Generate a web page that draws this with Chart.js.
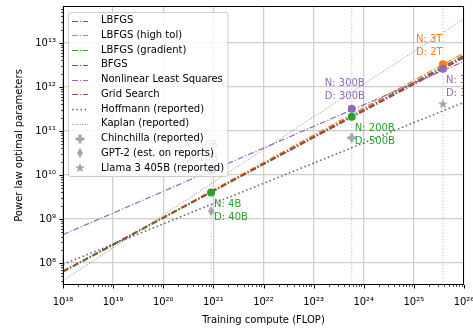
<!DOCTYPE html>
<html><head><meta charset="utf-8">
<script src="https://cdn.jsdelivr.net/npm/chart.js@4/dist/chart.umd.min.js"></script>
<style>html,body{margin:0;padding:0;background:#fff;overflow:hidden}#wrap{width:473px;height:333px;position:relative}</style>
</head><body><div id="wrap"><canvas id="c" width="473" height="333"></canvas></div>
<script>
// ---------------- data ----------------
const computeRange = [1e18, 1e26];                       // x axis limits (FLOP)
const paramRange = [Math.pow(10, 7.5), Math.pow(10, 13.84)]; // y axis limits

const methodNames = ['LBFGS', 'LBFGS (high tol)', 'LBFGS (gradient)', 'BFGS', 'Nonlinear Least Squares', 'Grid Search'];
const methodNAtStart = [6.3e7, 6.3e7, 6.2e7, 6.6e7, 4.4e8, 6.5e7];     // N at 1e18 FLOP
const methodNAtEnd   = [5.25e12, 5.9e12, 4.8e12, 4.6e12, 3.8e12, 5.1e12]; // N at 1e26 FLOP

const reportedNames = ['Hoffmann (reported)', 'Kaplan (reported)'];
const reportedNAtStart = [9.3e7, 4.0e7];
const reportedNAtEnd   = [4.47e11, 3.55e13];

const modelNames   = ['Chinchilla (reported)', 'GPT-2 (est. on reports)', 'Llama 3 405B (reported)'];
const modelCompute = [5.76e23, 9e20, 3.8e25];
const modelParams  = [7e10, 1.5e9, 4.05e11];

const refCompute = [9e20, 5.76e23, 3.8e25]; // vertical reference lines

const gradCompute = [9e20, 5.76e23];
const gradParams  = [4.0e9, 2.1e11];
const gradLabels  = [['N: 4B', 'D: 40B'], ['N: 200B', 'D: 500B']];

const nllsCompute = [9e20, 5.76e23, 3.8e25];
const nllsParams  = [1.26e10, 3.2e11, 2.6e12];
const nllsLabels  = [['N: 10B', 'D: 10B'], ['N: 300B', 'D: 300B'], ['N: 3T', 'D: 3T']];

const hiTolCompute = [3.8e25];
const hiTolParams  = [3.3e12];
const hiTolLabels  = [['N: 3T', 'D: 2T']];

// ---------------- styles ----------------
const FONT = '"DejaVu Sans", "Liberation Sans", sans-serif';
const methodColors = ['#1f77b4', '#ff7f0e', '#2ca02c', '#d62728', '#9467bd', '#8c564b'];
const dashDot = [6, 2, 1.2, 2];
const reportedColors = ['rgba(60,60,60,0.75)', 'rgba(90,90,90,0.75)'];
const reportedWidths = [1.6, 0.9];
const reportedDash = [[1.6, 2.6], [1, 1.6]];
const gradSide = ['below', 'below'];
const nllsSide = ['above', 'above', 'below'];
const hiTolSide = ['above'];
const markerKinds = ['plus', 'thin_diamond', 'star'];
const markerFill = 'rgba(128,128,128,0.7)';

Chart.defaults.font.family = FONT;
Chart.defaults.font.size = 10;
Chart.defaults.color = '#000';

function markerCanvas(kind) {
  const s = 14, c = document.createElement('canvas');
  c.width = s; c.height = s;
  const g = c.getContext('2d');
  g.fillStyle = markerFill;
  g.translate(s / 2, s / 2);
  g.beginPath();
  if (kind === 'plus') {
    const a = 4.5, t = 1.6;
    g.rect(-a, -t, 2 * a, 2 * t);
    g.rect(-t, -a, 2 * t, -2 * a + 4 * a - 2 * a + 2 * a);
  } else if (kind === 'thin_diamond') {
    g.moveTo(0, -5); g.lineTo(3, 0); g.lineTo(0, 5); g.lineTo(-3, 0); g.closePath();
  } else {
    for (let k = 0; k < 10; k++) {
      const r = k % 2 === 0 ? 5.2 : 2.1;
      const ang = -Math.PI / 2 + k * Math.PI / 5;
      const px = r * Math.cos(ang), py = r * Math.sin(ang);
      if (k === 0) g.moveTo(px, py); else g.lineTo(px, py);
    }
    g.closePath();
  }
  g.fill();
  return c;
}
const markerImgs = markerKinds.map(markerCanvas);

const SUP = {'0':'⁰','1':'¹','2':'²','3':'³','4':'⁴','5':'⁵','6':'⁶','7':'⁷','8':'⁸','9':'⁹','-':'⁻'};
function isMajor(v) { const e = Math.log10(v); return Math.abs(e - Math.round(e)) < 1e-6; }
function powLabel(v) { const e = Math.round(Math.log10(v)); return '10' + String(e).split('').map(ch => SUP[ch]).join(''); }
function logTicks(min, max) {
  const out = [];
  for (let e = Math.floor(Math.log10(min)); e <= Math.ceil(Math.log10(max)); e++) {
    for (let m = 1; m < 10; m++) {
      const v = m * Math.pow(10, e);
      if (v >= min * 0.999999 && v <= max * 1.000001) out.push({ value: v });
    }
  }
  return out;
}

// ---------------- datasets ----------------
const datasets = [];
refCompute.forEach(c => datasets.push({
  data: [{ x: c, y: paramRange[0] }, { x: c, y: paramRange[1] }],
  borderColor: '#bdbdbd', borderWidth: 1, borderDash: [1.2, 2], pointRadius: 0, order: 100
}));
methodNames.forEach((n, i) => datasets.push({
  label: n,
  data: [{ x: computeRange[0], y: methodNAtStart[i] }, { x: computeRange[1], y: methodNAtEnd[i] }],
  borderColor: methodColors[i], borderWidth: 1.2, borderDash: dashDot, pointRadius: 0, order: 60 - i
}));
reportedNames.forEach((n, i) => datasets.push({
  label: n,
  data: [{ x: computeRange[0], y: reportedNAtStart[i] }, { x: computeRange[1], y: reportedNAtEnd[i] }],
  borderColor: reportedColors[i], borderWidth: reportedWidths[i], borderDash: reportedDash[i], pointRadius: 0, order: 50 - i
}));
modelNames.forEach((n, i) => datasets.push({
  label: n,
  data: [{ x: modelCompute[i], y: modelParams[i] }],
  showLine: false, pointStyle: markerImgs[i], pointRadius: 5, pointHoverRadius: 5, order: 20
}));
function pointSet(cs, ps, color) {
  return {
    data: cs.map((c, i) => ({ x: c, y: ps[i] })),
    showLine: false, pointRadius: 4, pointHoverRadius: 4, pointBorderWidth: 0,
    pointBackgroundColor: color, borderColor: color, order: 10
  };
}
datasets.push(pointSet(gradCompute, gradParams, methodColors[2]));
datasets.push(pointSet(nllsCompute, nllsParams, methodColors[4]));
datasets.push(pointSet(hiTolCompute, hiTolParams, methodColors[1]));

// ---------------- plugin: frame, ticks, annotations, legend ----------------
const overlay = {
  id: 'overlay',
  afterDatasetsDraw(chart) {
    const { ctx, chartArea: a, scales: { x, y } } = chart;
    // annotations
    ctx.save();
    ctx.beginPath(); ctx.rect(a.left, a.top, a.right - a.left, a.bottom - a.top); ctx.clip();
    ctx.font = '10px ' + FONT; ctx.textBaseline = 'middle'; ctx.textAlign = 'left';
    const ann = (cs, ps, labels, sides, color) => {
      cs.forEach((c, i) => {
        const px = x.getPixelForValue(c), py = y.getPixelForValue(ps[i]);
        ctx.fillStyle = color;
        if (sides[i] === 'above') {
          ctx.fillText(labels[i][0], px - 27, py - 25);
          ctx.fillText(labels[i][1], px - 27, py - 12);
        } else {
          ctx.fillText(labels[i][0], px + 3, py + 12);
          ctx.fillText(labels[i][1], px + 3, py + 25);
        }
      });
    };
    ann(gradCompute, gradParams, gradLabels, gradSide, methodColors[2]);
    ann(nllsCompute, nllsParams, nllsLabels, nllsSide, methodColors[4]);
    ann(hiTolCompute, hiTolParams, hiTolLabels, hiTolSide, methodColors[1]);
    ctx.restore();

    // frame
    ctx.save();
    ctx.strokeStyle = '#000'; ctx.lineWidth = 1;
    ctx.strokeRect(a.left + 0.5, a.top + 0.5, a.right - a.left - 1, a.bottom - a.top - 1);
    // tick marks
    x.ticks.forEach(t => {
      const p = Math.round(x.getPixelForValue(t.value)) + 0.5, L = isMajor(t.value) ? 3.5 : 2;
      ctx.beginPath(); ctx.moveTo(p, a.bottom); ctx.lineTo(p, a.bottom + L); ctx.lineWidth = isMajor(t.value) ? 1 : 0.7; ctx.stroke();
    });
    y.ticks.forEach(t => {
      const p = Math.round(y.getPixelForValue(t.value)) + 0.5, L = isMajor(t.value) ? 3.5 : 2;
      ctx.beginPath(); ctx.moveTo(a.left, p); ctx.lineTo(a.left - L, p); ctx.lineWidth = isMajor(t.value) ? 1 : 0.7; ctx.stroke();
    });
    ctx.restore();

    // legend
    ctx.save();
    const lx = 68.5, ly = 12.5, lw = 159.5, lh = 164;
    ctx.beginPath(); ctx.roundRect(lx, ly, lw, lh, 2.5);
    ctx.fillStyle = 'rgba(255,255,255,0.8)'; ctx.fill();
    ctx.strokeStyle = '#cccccc'; ctx.lineWidth = 1; ctx.stroke();
    const entries = [];
    methodNames.forEach((n, i) => entries.push({ n, kind: 'line', color: methodColors[i], w: 1.2, dash: dashDot }));
    reportedNames.forEach((n, i) => entries.push({ n, kind: 'line', color: reportedColors[i], w: reportedWidths[i], dash: reportedDash[i] }));
    modelNames.forEach((n, i) => entries.push({ n, kind: 'marker', img: markerImgs[i] }));
    ctx.font = '10px ' + FONT; ctx.textBaseline = 'middle'; ctx.textAlign = 'left';
    entries.forEach((e, i) => {
      const ry = 20.5 + i * 14.75;
      if (e.kind === 'line') {
        ctx.beginPath(); ctx.setLineDash(e.dash); ctx.strokeStyle = e.color; ctx.lineWidth = e.w;
        ctx.moveTo(72, Math.round(ry) + 0.5); ctx.lineTo(88, Math.round(ry) + 0.5); ctx.stroke();
        ctx.setLineDash([]);
      } else {
        ctx.drawImage(e.img, 80 - e.img.width / 2, Math.round(ry) - e.img.height / 2);
      }
      ctx.fillStyle = '#000';
      ctx.fillText(e.n, 101, ry);
    });
    ctx.restore();
  }
};

const gridColor = ctx => (ctx.tick && isMajor(ctx.tick.value)) ? '#cfcfcf' : 'rgba(0,0,0,0)';

new Chart(document.getElementById('c'), {
  type: 'line',
  data: { datasets },
  options: {
    responsive: false, animation: false, devicePixelRatio: 1,
    layout: { padding: { left: 0, right: 9, top: 5, bottom: 0 } },
    plugins: { legend: { display: false }, tooltip: { enabled: false } },
    elements: { line: { tension: 0, fill: false } },
    scales: {
      x: {
        type: 'logarithmic', position: 'bottom', min: computeRange[0], max: computeRange[1],
        afterBuildTicks: s => { s.ticks = logTicks(computeRange[0], computeRange[1]); },
        afterFit: s => { s.height = 48; s.paddingLeft = 0; s.paddingRight = 0; },
        ticks: { autoSkip: false, maxRotation: 0, minRotation: 0, padding: 11, color: '#000',
          font: { size: 10 }, callback: v => isMajor(v) ? powLabel(v) : '' },
        grid: { drawTicks: false, color: gridColor, lineWidth: 1.3 },
        border: { display: false },
        title: { display: true, text: 'Training compute (FLOP)', color: '#000', font: { size: 10 }, padding: { top: 0, bottom: 7 } }
      },
      y: {
        type: 'logarithmic', position: 'left', min: paramRange[0], max: paramRange[1],
        afterBuildTicks: s => { s.ticks = logTicks(paramRange[0], paramRange[1]); },
        afterFit: s => { s.width = 63; s.paddingTop = 0; s.paddingBottom = 0; },
        ticks: { autoSkip: false, padding: 7, color: '#000', font: { size: 10 },
          callback: v => isMajor(v) ? powLabel(v) : '' },
        grid: { drawTicks: false, color: gridColor, lineWidth: 1.3 },
        border: { display: false },
        title: { display: true, text: 'Power law optimal parameters', color: '#000', font: { size: 10 }, padding: { top: 13, bottom: 0 } }
      }
    }
  },
  plugins: [overlay]
});
</script>
</body></html>
